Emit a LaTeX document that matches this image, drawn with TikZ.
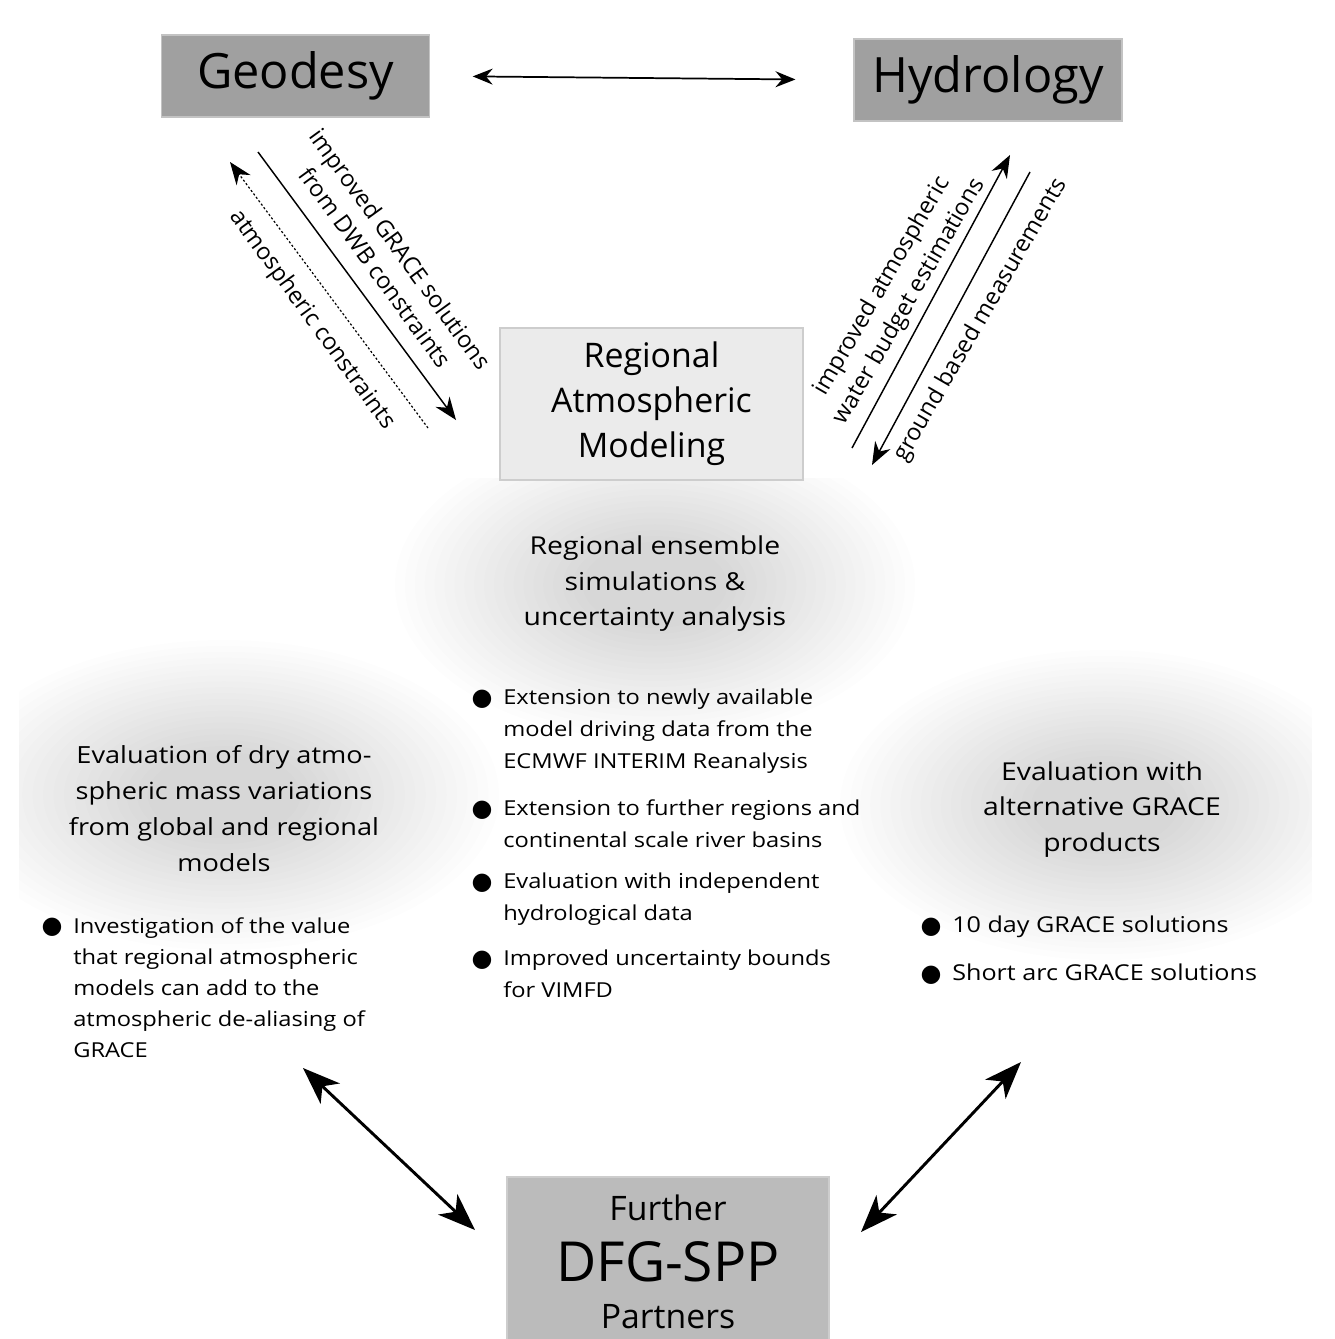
\documentclass[tikz,border=0pt]{standalone}
\usepackage{fontspec}
\setmainfont{Open Sans}
\newfontfamily\bodyfont{Open Sans}[FakeStretch=1.15]
\newfontfamily\dejavu{DejaVu Sans}
\usetikzlibrary{arrows.meta}
\definecolor{geofill}{RGB}{160,160,160}
\definecolor{geoline}{RGB}{195,195,195}
\definecolor{ramfill}{RGB}{235,235,235}
\definecolor{ramline}{RGB}{205,205,205}
\definecolor{dfgfill}{RGB}{187,187,187}
\definecolor{dfgline}{RGB}{205,205,205}
\newcommand{\blt}{\llap{\smash{\raisebox{-0.5pt}{\dejavu\fontsize{18}{18}\selectfont ●}}\hspace{8pt}}}
\begin{document}
\begin{tikzpicture}[x=0.75pt,y=-0.75pt,
  titlebox/.style={fill=geofill,draw=geoline,line width=0.8pt,inner sep=0pt,
    minimum width=201pt,minimum height=61.5pt,font=\fontsize{36.5}{44}\selectfont},
  heading/.style={align=center,inner sep=0pt,font=\bodyfont\fontsize{18.5}{26.6}\selectfont},
  itemtext/.style={align=left,inner sep=0pt,anchor=north west,font=\bodyfont\fontsize{15.45}{23.8}\selectfont},
  arrowlabel/.style={align=center,inner sep=0pt,font=\fontsize{17.6}{23.3}\selectfont},
  smalltip/.style={line width=1.1pt},
  bigtip/.style={line width=2.2pt}
]
\useasboundingbox (0,0) rectangle (1335,1339);
% soft shadows behind the headings
\begin{scope}
  \clip (365,478) rectangle (940,1010);
  \foreach \k in {0,...,19}
    \fill[black,opacity=0.0075] (655,585) ellipse ({260*(1-0.038*\k)} and {155*(1-0.038*\k)});
\end{scope}
\begin{scope}
  \clip (19,620) rectangle (700,1010);
  \foreach \k in {0,...,19}
    \fill[black,opacity=0.0075] (224,795) ellipse ({275*(1-0.038*\k)} and {155*(1-0.038*\k)});
\end{scope}
\begin{scope}
  \clip (640,620) rectangle (1312,1010);
  \foreach \k in {0,...,19}
    \fill[black,opacity=0.0075] (1105,805) ellipse ({265*(1-0.038*\k)} and {155*(1-0.038*\k)});
\end{scope}

% boxes
\node[titlebox] (geo) at (295.5,76) {Geodesy};
\node[titlebox] (hyd) at (988,80) {Hydrology};
\node[fill=ramfill,draw=ramline,line width=0.8pt,inner sep=0pt,minimum width=227.25pt,minimum height=114pt,
  align=center,font=\fontsize{25.4}{33.75}\selectfont] (ram) at (651.5,404) {Regional\\Atmospheric\\Modeling\rule[-3pt]{0pt}{1pt}};
\node[fill=dfgfill,draw=dfgline,line width=0.8pt,inner sep=0pt,minimum width=241.5pt,minimum height=127.5pt,
  align=center,font=\fontsize{25.3}{40.5}\selectfont] (dfg) at (668,1262)
  {Further\\\raisebox{-5.2pt}{\fontsize{41.4}{40.5}\selectfont DFG-SPP}\\Partners};

% headings
\node[heading] (mh) at (655,584) {Regional ensemble\\simulations \&\\uncertainty analysis};
\node[heading,font=\bodyfont\fontsize{17.7}{27}\selectfont] (lh) at (224,809) {Evaluation of dry atmo-\\spheric mass variations\\from global and regional\\models};
\node[heading] (rh) at (1102,809.5) {Evaluation with\\alternative GRACE\\products};

% bullet items
\node[itemtext] (m1) at (503,689) {\blt Extension to newly available\\model driving data from the\\ECMWF INTERIM Reanalysis};
\node[itemtext] (m2) at (503,799.5) {\blt Extension to further regions and\\continental scale river basins};
\node[itemtext] (m3) at (503,873) {\blt Evaluation with independent\\hydrological data};
\node[itemtext] (m4) at (503,950) {\blt Improved uncertainty bounds\\for VIMFD};
\node[itemtext,font=\bodyfont\fontsize{15.45}{23.3}\selectfont] (l1) at (73,917) {\blt Investigation of the value\\that regional atmospheric\\models can add to the\\atmospheric de-aliasing of\\GRACE};
\node[itemtext,font=\bodyfont\fontsize{16.4}{23.8}\selectfont] (r1) at (952,915.5) {\blt 10 day GRACE solutions};
\node[itemtext,font=\bodyfont\fontsize{16.4}{23.8}\selectfont] (r2) at (952,963.5) {\blt Short arc GRACE solutions};

% arrow labels
\node[arrowlabel,rotate=-54] (lgl) at (388,258) {improved GRACE solutions\\from DWB constraints};
\node[arrowlabel,rotate=-54] (lal) at (312,320) {atmospheric constraints};
\node[arrowlabel,rotate=60] (rwl) at (896,294) {improved atmospheric\\water budget estimations};
\node[arrowlabel,rotate=60] (rgl) at (981,320) {ground based measurements};

% connector end points
\coordinate (a1s) at (258,152);
\coordinate (a1e) at (456,420);
\coordinate (a2s) at (428,428);
\coordinate (a2e) at (230,162);
\coordinate (a3s) at (852,448);
\coordinate (a3e) at (1010,155);
\coordinate (a4s) at (1030,172);
\coordinate (a4e) at (872,465);
\coordinate (b1s) at (303,1068);
\coordinate (b1e) at (475,1230);
\coordinate (b2s) at (1021,1062);
\coordinate (b2e) at (861,1232);

% connectors
\draw[line width=1.3pt,{Stealth[length=15pt,width=12pt,inset=5pt]}-{Stealth[length=15pt,width=12pt,inset=5pt]},
  shorten <=32pt,shorten >=43.5pt] (geo.east) -- (hyd.west);
\draw[smalltip,-{Stealth[length=17pt,width=13pt,inset=5.5pt]}] (a1s) -- (a1e);
\draw[line width=0.9pt,dash pattern=on 1.6pt off 1.6pt,-{Stealth[length=17pt,width=13pt,inset=5.5pt]}] (a2s) -- (a2e);
\draw[smalltip,-{Stealth[length=17pt,width=13pt,inset=5.5pt]}] (a3s) -- (a3e);
\draw[smalltip,-{Stealth[length=17pt,width=13pt,inset=5.5pt]}] (a4s) -- (a4e);
\draw[bigtip,{Stealth[length=28pt,width=21pt,inset=8pt]}-{Stealth[length=28pt,width=21pt,inset=8pt]}] (b1s) -- (b1e);
\draw[bigtip,{Stealth[length=28pt,width=21pt,inset=8pt]}-{Stealth[length=28pt,width=21pt,inset=8pt]}] (b2s) -- (b2e);
\end{tikzpicture}
\end{document}
